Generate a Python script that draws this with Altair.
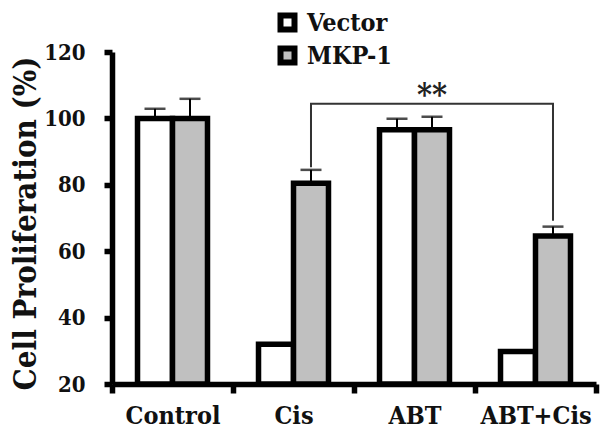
import altair as alt
import pandas as pd

categories = ["Control", "Cis", "ABT", "ABT+Cis"]
groups = ["Vector", "MKP-1"]
vector_values = [100.0, 32.0, 96.6, 29.8]
mkp1_values = [100.0, 80.5, 96.6, 64.6]
vector_err = [2.9, 0.0, 3.3, 0.0]
mkp1_err = [5.9, 4.0, 3.9, 2.8]
y_ticks = [20, 40, 60, 80, 100, 120]
bracket_categories = ["Cis", "Cis", "ABT+Cis", "ABT+Cis"]
bracket_values = [85.3, 104.4, 104.4, 69.2]
sig_label = "**"
sig_category = "ABT"
sig_value = 104.4

FONT = "DejaVu Serif Condensed"
GRAY = "#c0c0c0"

rows = []
for c, v, e in zip(categories, vector_values, vector_err):
    rows.append({"category": c, "group": "Vector", "value": v, "upper": v + e, "err": e})
for c, v, e in zip(categories, mkp1_values, mkp1_err):
    rows.append({"category": c, "group": "MKP-1", "value": v, "upper": v + e, "err": e})
df = pd.DataFrame(rows)
err_df = df[df["err"] > 0]

bracket_df = pd.DataFrame({
    "category": bracket_categories,
    "group": ["MKP-1"] * len(bracket_categories),
    "value": bracket_values,
    "step": list(range(len(bracket_categories))),
})
sig_df = pd.DataFrame({"category": [sig_category], "group": ["MKP-1"],
                       "value": [sig_value], "label": [sig_label]})

x_axis = alt.Axis(title=None, labelFont=FONT, labelFontSize=25, labelFontWeight="bold",
                  labelColor="#111", labelAngle=0, labelPadding=10, tickBand="extent",
                  tickSize=9, tickWidth=5.5, tickColor="black",
                  domainColor="black", domainWidth=5.5, grid=False)
y_axis = alt.Axis(title="Cell Proliferation (%)", values=y_ticks, labelFont=FONT,
                  labelFontSize=22, labelFontWeight="bold", labelColor="#111",
                  labelPadding=19, tickSize=8, tickWidth=5.5, tickColor="black",
                  domainColor="black", domainWidth=5.5, grid=False,
                  titleFont=FONT, titleFontSize=31, titleFontWeight="bold",
                  titleColor="#111", titleAngle=270, titleX=-77, titleY=171,
                  titleAlign="center", titleBaseline="alphabetic")


def xenc():
    return alt.X("category:N", sort=categories,
                 scale=alt.Scale(domain=categories, paddingInner=0, paddingOuter=0),
                 axis=x_axis)


def xoff():
    return alt.XOffset("group:N", sort=groups,
                       scale=alt.Scale(domain=groups, paddingInner=0, paddingOuter=0.729))


def yenc(field):
    return alt.Y(field, scale=alt.Scale(domain=[20, 120], zero=False, nice=False),
                 axis=y_axis)


bars = alt.Chart(df).mark_bar(stroke="black", strokeWidth=5.5).encode(
    x=xenc(), xOffset=xoff(), y=yenc("value:Q"), y2=alt.datum(20),
    fill=alt.Fill("group:N", sort=groups,
                  scale=alt.Scale(domain=groups, range=["white", GRAY]),
                  legend=alt.Legend(title=None, orient="none", legendX=163, legendY=-42,
                                    symbolType="square", symbolSize=196,
                                    symbolStrokeWidth=6, symbolStrokeColor="black",
                                    labelFont=FONT, labelFontSize=25,
                                    labelFontWeight="bold", labelColor="#111",
                                    labelOffset=7, rowPadding=-6)),
)

err_rules = alt.Chart(err_df).mark_rule(color="black", strokeWidth=2).encode(
    x=xenc(), xOffset=xoff(), y=yenc("value:Q"), y2="upper:Q")

err_caps = alt.Chart(err_df).mark_tick(color="black", thickness=2.5, size=21).encode(
    x=xenc(), xOffset=xoff(), y=yenc("upper:Q"))

bracket = alt.Chart(bracket_df).mark_line(color="#333", strokeWidth=2).encode(
    x=xenc(), xOffset=xoff(), y=yenc("value:Q"), order="step:O")

sig = alt.Chart(sig_df).mark_text(font=FONT, fontSize=32, fontWeight="bold",
                                  color="#222", baseline="alphabetic", dy=1).encode(
    x=xenc(), xOffset=xoff(), y=yenc("value:Q"), text="label:N")

chart = alt.layer(bars, err_rules, err_caps, bracket, sig).properties(
    width=484, height=332,
    autosize=alt.AutoSizeParams(type="none"),
    padding={"left": 104, "top": 44, "right": 4, "bottom": 45},
).configure_view(strokeWidth=0)

chart.save("out.html", embed_options={"renderer": "svg", "actions": False})
